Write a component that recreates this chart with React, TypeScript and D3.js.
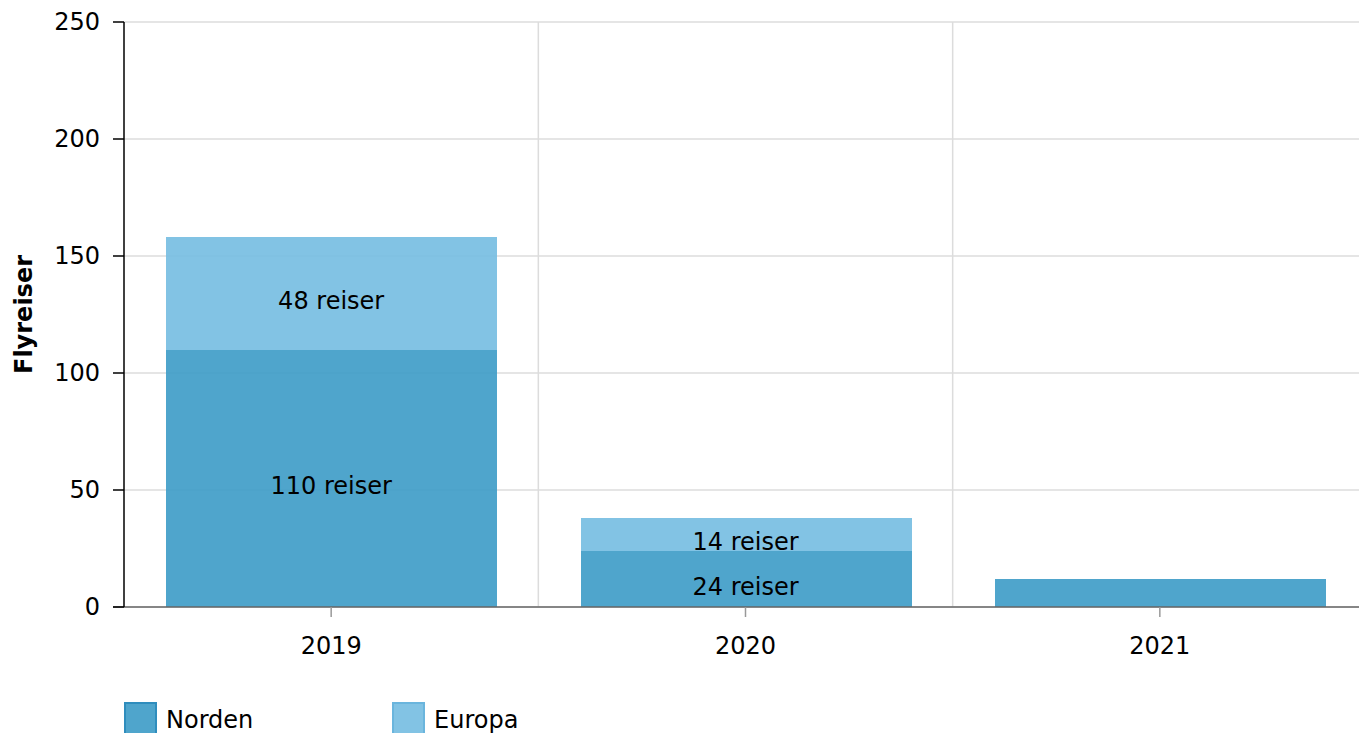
import React from 'react';
import * as d3 from 'd3';

const years = ['2019', '2020', '2021'];
const norden = [110, 24, 12];
const europa = [48, 14, 0];
const seriesNames = ['Norden', 'Europa'];
const seriesColors = ['#3c9bc6', '#74bce1'];
const yTicks = [0, 50, 100, 150, 200, 250];

const width = 1359;
const height = 733;
const margin = { top: 22, right: 0, bottom: 126, left: 124 };
const plotRight = 1367;
const font = 'Verdana, "DejaVu Sans", sans-serif';
const fs = 24;

export default function App() {
  const innerBottom = height - margin.bottom;

  const x = d3.scaleBand<string>()
    .domain(years)
    .range([margin.left, plotRight])
    .paddingInner(0.2)
    .paddingOuter(0.1);

  const xOuter = d3.scaleBand<string>()
    .domain(years)
    .range([margin.left, plotRight]);

  const y = d3.scaleLinear().domain([0, 250]).range([innerBottom, margin.top]);

  const rows = years.map((yr, i) => ({ year: yr, Norden: norden[i], Europa: europa[i] }));
  const stacked = d3.stack<any>().keys(seriesNames)(rows);

  return (
    <svg width={width} height={height}
      style={{ position: 'absolute', left: 0, top: 0, display: 'block', fontFamily: font, background: '#fff' }}>
      {/* horizontal grid */}
      {yTicks.map(t => (
        <line key={'h' + t} x1={margin.left} x2={width} y1={y(t)} y2={y(t)} stroke="#dcdcdc" strokeWidth={1.5} />
      ))}
      {/* vertical grid at band boundaries */}
      {years.slice(1).map(yr => (
        <line key={'v' + yr} x1={xOuter(yr)!} x2={xOuter(yr)!} y1={margin.top} y2={innerBottom} stroke="#dcdcdc" strokeWidth={1.5} />
      ))}

      {/* bars */}
      {stacked.map((layer, si) => (
        <g key={layer.key} fill={seriesColors[si]} fillOpacity={0.9} shapeRendering="crispEdges">
          {layer.map((d, i) => {
            const y0 = Math.round(y(d[0]));
            const y1 = Math.round(y(d[1]));
            if (y0 - y1 <= 0) return null;
            return <rect key={i} x={Math.round(x(years[i])!) + 1} width={Math.round(x.bandwidth())} y={y1} height={y0 - y1} />;
          })}
        </g>
      ))}

      {/* value labels */}
      {stacked.map((layer, si) => (
        <g key={'l' + layer.key}>
          {layer.map((d, i) => {
            const h = y(d[0]) - y(d[1]);
            if (h < 30) return null;
            const v = d[1] - d[0];
            return (
              <text key={i} x={x(years[i])! + x.bandwidth() / 2} y={(y(d[0]) + y(d[1])) / 2 + 8}
                textAnchor="middle" dominantBaseline="central" fontSize={fs} fill="#000">
                {v} reiser
              </text>
            );
          })}
        </g>
      ))}

      {/* x axis */}
      <line x1={113} x2={width} y1={innerBottom} y2={innerBottom} stroke="#666" strokeWidth={1.5} />
      {years.map(yr => {
        const cx = x(yr)! + x.bandwidth() / 2;
        return (
          <g key={'xt' + yr}>
            <line x1={cx} x2={cx} y1={innerBottom} y2={innerBottom + 10} stroke="#999" strokeWidth={1.5} />
            <text x={cx} y={innerBottom + 47} textAnchor="middle" fontSize={fs} fill="#000">{yr}</text>
          </g>
        );
      })}

      {/* y axis */}
      <line x1={margin.left} x2={margin.left} y1={margin.top} y2={innerBottom} stroke="#000" strokeWidth={1.5} />
      {yTicks.map(t => (
        <g key={'yt' + t}>
          <line x1={margin.left - 11} x2={margin.left} y1={y(t)} y2={y(t)} stroke="#000" strokeWidth={1.5} />
          <text x={margin.left - 24} y={y(t)} textAnchor="end" dominantBaseline="central" fontSize={fs} fill="#000">{t}</text>
        </g>
      ))}
      <text transform={`translate(32,${(margin.top + innerBottom) / 2}) rotate(-90)`} textAnchor="middle"
        fontSize={fs} fontWeight="bold" fill="#000">Flyreiser</text>

      {/* legend */}
      {seriesNames.map((name, i) => {
        const lx = 124 + i * 268;
        return (
          <g key={'lg' + name}>
            <rect x={lx + 1} y={703} width={31} height={31} fill={seriesColors[i]} fillOpacity={0.9}
              stroke={i === 0 ? '#2f8dbd' : '#6ab5dd'} strokeWidth={2} />
            <text x={lx + 42} y={720} dominantBaseline="central" fontSize={fs} fill="#000">{name}</text>
          </g>
        );
      })}
    </svg>
  );
}
